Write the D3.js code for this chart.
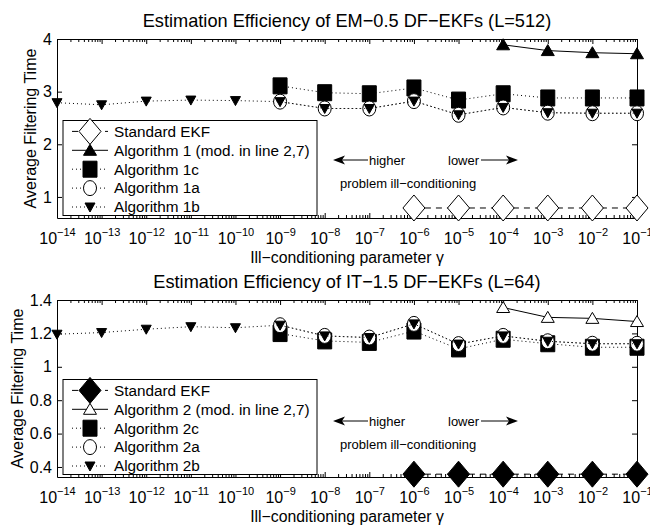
<!DOCTYPE html>
<html>
<head>
<meta charset="utf-8">
<script src="https://cdn.jsdelivr.net/npm/d3@7"></script>
<style>
body { margin: 0; background: #fff; }
text { font-family: "Liberation Sans", Arial, Helvetica, sans-serif; fill: #000; }
</style>
</head>
<body>
<svg id="chart" width="650" height="527"></svg>
<script>
// x positions: exponents of gamma (10^e)
var exps = [-14, -13, -12, -11, -10, -9, -8, -7, -6, -5, -4, -3, -2, -1];

// top panel: EM-0.5 DF-EKFs (L=512)
var ekf1  = [null, null, null, null, null, null, null, null, 0.79, 0.79, 0.79, 0.79, 0.79, 0.79];
var alg1  = [null, null, null, null, null, null, null, null, null, null, 3.89, 3.78, 3.74, 3.72];
var alg1c = [null, null, null, null, null, 3.11, 2.98, 2.96, 3.07, 2.84, 2.96, 2.88, 2.88, 2.88];
var alg1a = [null, null, null, null, null, 2.81, 2.68, 2.68, 2.82, 2.56, 2.70, 2.60, 2.59, 2.59];
var alg1b = [2.79, 2.75, 2.82, 2.84, 2.83, 2.81, 2.68, 2.68, 2.82, 2.56, 2.70, 2.60, 2.59, 2.59];
var names1 = ["Standard EKF", "Algorithm 1 (mod. in line 2,7)", "Algorithm 1c", "Algorithm 1a", "Algorithm 1b"];
var yTicks1 = [1, 2, 3, 4];

// bottom panel: IT-1.5 DF-EKFs (L=64)
var ekf2  = [null, null, null, null, null, null, null, null, 0.357, 0.357, 0.357, 0.357, 0.357, 0.357];
var alg2  = [null, null, null, null, null, null, null, null, null, null, 1.355, 1.296, 1.29, 1.271];
var alg2c = [null, null, null, null, null, 1.199, 1.155, 1.146, 1.214, 1.107, 1.165, 1.138, 1.117, 1.117];
var alg2a = [null, null, null, null, null, 1.249, 1.185, 1.175, 1.257, 1.136, 1.185, 1.153, 1.138, 1.138];
var alg2b = [1.195, 1.205, 1.225, 1.24, 1.234, 1.249, 1.185, 1.175, 1.257, 1.136, 1.185, 1.153, 1.138, 1.138];
var names2 = ["Standard EKF", "Algorithm 2 (mod. in line 2,7)", "Algorithm 2c", "Algorithm 2a", "Algorithm 2b"];
var yTicks2 = [0.4, 0.6, 0.8, 1, 1.2, 1.4];

var svg = d3.select("#chart");
var L = 57, R = 637;

function shape(type, cx, cy) {
    if (type == "diamond") return "M" + cx + "," + (cy - 13) + "L" + (cx + 11) + "," + cy + "L" + cx + "," + (cy + 13) + "L" + (cx - 11) + "," + cy + "Z";
    if (type == "square") return "M" + (cx - 7) + "," + (cy - 8) + "h14v16h-14Z";
    if (type == "up") return "M" + cx + "," + (cy - 6) + "L" + (cx + 6.5) + "," + (cy + 5) + "L" + (cx - 6.5) + "," + (cy + 5) + "Z";
    if (type == "down") return "M" + (cx - 5) + "," + (cy - 4) + "L" + (cx + 5) + "," + (cy - 4) + "L" + cx + "," + (cy + 5) + "Z";
    if (type == "circle") return "M" + (cx - 6.5) + "," + cy + "a6.5,7.5 0 1,0 13,0a6.5,7.5 0 1,0 -13,0Z";
}

function drawPanel(p) {
    var x = d3.scaleLog().domain([1e-14, 1e-1]).range([L, R]);
    var y = d3.scaleLinear().domain(p.yDomain).range([p.bottom, p.top]);
    var g = svg.append("g");

    g.append("text")
        .attr("x", (L + R) / 2).attr("y", p.top - 12)
        .attr("text-anchor", "middle").style("font-size", "18.2px")
        .text(p.title);

    var majors = exps.map(function(e) { return Math.pow(10, e); });
    var minors = [];
    exps.slice(0, -1).forEach(function(e) {
        for (var m = 2; m < 10; m++) minors.push(m * Math.pow(10, e));
    });

    // x axes (bottom with labels, top ticks only)
    var xb = g.append("g").attr("transform", "translate(0," + p.bottom + ")")
        .call(d3.axisBottom(x).tickValues(majors).tickSize(-5).tickSizeOuter(0));
    xb.selectAll(".tick text").each(function(d) {
        var t = d3.select(this).text(null).attr("y", 25.5).attr("dy", null).style("font-size", "16px");
        t.append("tspan").text("10");
        t.append("tspan").attr("dy", -8).style("font-size", "11px").text("\u2212" + Math.round(-Math.log10(d)));
    });
    g.append("g").attr("transform", "translate(0," + p.bottom + ")")
        .call(d3.axisBottom(x).tickValues(minors).tickSize(-3).tickSizeOuter(0).tickFormat(""))
        .select(".domain").remove();
    g.append("g").attr("transform", "translate(0," + p.top + ")")
        .call(d3.axisTop(x).tickValues(majors).tickSize(-5).tickSizeOuter(0).tickFormat(""));
    g.append("g").attr("transform", "translate(0," + p.top + ")")
        .call(d3.axisTop(x).tickValues(minors).tickSize(-3).tickSizeOuter(0).tickFormat(""))
        .select(".domain").remove();

    // y axes
    g.append("g").attr("transform", "translate(" + L + ",0)")
        .call(d3.axisLeft(y).tickValues(p.yTicks).tickSize(-5).tickSizeOuter(0).tickPadding(5).tickFormat(d3.format("")))
        .selectAll("text").style("font-size", "16px");
    g.append("g").attr("transform", "translate(" + R + ",0)")
        .call(d3.axisRight(y).tickValues(p.yTicks).tickSize(-5).tickSizeOuter(0).tickFormat(""));
    g.selectAll(".domain").attr("stroke", "#000");
    g.selectAll(".tick line").attr("stroke", "#000");

    g.append("text")
        .attr("transform", "translate(" + p.ylabelX + "," + (p.top + p.bottom) / 2 + ") rotate(-90)")
        .attr("text-anchor", "middle").style("font-size", "16px")
        .text("Average Filtering Time");
    g.append("text")
        .attr("x", (L + R) / 2).attr("y", p.bottom + 45)
        .attr("text-anchor", "middle").style("font-size", "15.8px")
        .text("Ill\u2212conditioning parameter \u03b3");

    // series
    var line = d3.line()
        .defined(function(d) { return d.v != null; })
        .x(function(d) { return x(d.x); })
        .y(function(d) { return y(d.v); });
    p.series.forEach(function(s) {
        var pts = exps.map(function(e, i) { return { x: Math.pow(10, e), v: s.data[i] }; });
        g.append("path").datum(pts)
            .attr("d", line).attr("fill", "none")
            .attr("stroke", "#000").attr("stroke-width", 1)
            .attr("stroke-dasharray", s.dash);
        g.selectAll(null).data(pts.filter(function(d) { return d.v != null; }))
            .enter().append("path")
            .attr("d", function(d) { return shape(s.marker, x(d.x), y(d.v)); })
            .attr("fill", s.fill).attr("stroke", "#000").attr("stroke-width", 1);
    });

    // legend
    var lx = L + 6, lw = 254, rowH = 18.9;
    var lb = p.bottom - 2.5;
    var lt = lb - 95;
    g.append("rect").attr("x", lx).attr("y", lt).attr("width", lw).attr("height", lb - lt)
        .attr("fill", "#fff").attr("stroke", "#000").attr("stroke-width", 1);
    p.series.forEach(function(s, i) {
        var ry = lb - 8.5 - (p.series.length - 1 - i) * rowH;
        g.append("line").attr("x1", lx + 9).attr("x2", lx + 45).attr("y1", ry).attr("y2", ry)
            .attr("stroke", "#000").attr("stroke-dasharray", s.dash);
        g.append("path").attr("d", shape(s.marker, lx + 27, ry))
            .attr("fill", s.fill).attr("stroke", "#000");
        g.append("text").attr("x", lx + 51).attr("y", ry).attr("dy", "0.35em")
            .style("font-size", "15.3px").text(p.names[i]);
    });

    // annotations
    var ay = p.top + 121;
    g.append("line").attr("x1", 342).attr("x2", 368).attr("y1", ay).attr("y2", ay).attr("stroke", "#000");
    g.append("path").attr("d", "M333," + ay + "l12,-4.5l-3,4.5l3,4.5Z").attr("fill", "#000");
    g.append("text").attr("x", 369).attr("y", ay).attr("dy", "0.35em").style("font-size", "13px").text("higher");
    g.append("text").attr("x", 448).attr("y", ay).attr("dy", "0.35em").style("font-size", "13px").text("lower");
    g.append("line").attr("x1", 481).attr("x2", 509).attr("y1", ay).attr("y2", ay).attr("stroke", "#000");
    g.append("path").attr("d", "M518," + ay + "l-12,-4.5l3,4.5l-3,4.5Z").attr("fill", "#000");
    g.append("text").attr("x", 340).attr("y", p.top + 144).attr("dy", "0.35em").style("font-size", "13px")
        .text("problem ill\u2212conditioning");
}

drawPanel({
    top: 39, bottom: 218, yDomain: [0.6, 4], yTicks: yTicks1, ylabelX: 36,
    title: "Estimation Efficiency of EM\u22120.5 DF\u2212EKFs (L=512)",
    names: names1,
    series: [
        { data: ekf1, marker: "diamond", fill: "#fff", dash: "6,5" },
        { data: alg1, marker: "up", fill: "#000", dash: null },
        { data: alg1c, marker: "square", fill: "#000", dash: "1,3" },
        { data: alg1a, marker: "circle", fill: "#fff", dash: "1,3" },
        { data: alg1b, marker: "down", fill: "#000", dash: "1,3" }
    ]
});

drawPanel({
    top: 300, bottom: 477, yDomain: [0.34, 1.4], yTicks: yTicks2, ylabelX: 23,
    title: "Estimation Efficiency of IT\u22121.5 DF\u2212EKFs (L=64)",
    names: names2,
    series: [
        { data: ekf2, marker: "diamond", fill: "#000", dash: "6,5" },
        { data: alg2, marker: "up", fill: "#fff", dash: null },
        { data: alg2c, marker: "square", fill: "#000", dash: "1,3" },
        { data: alg2a, marker: "circle", fill: "#fff", dash: "1,3" },
        { data: alg2b, marker: "down", fill: "#000", dash: "1,3" }
    ]
});
</script>
</body>
</html>
